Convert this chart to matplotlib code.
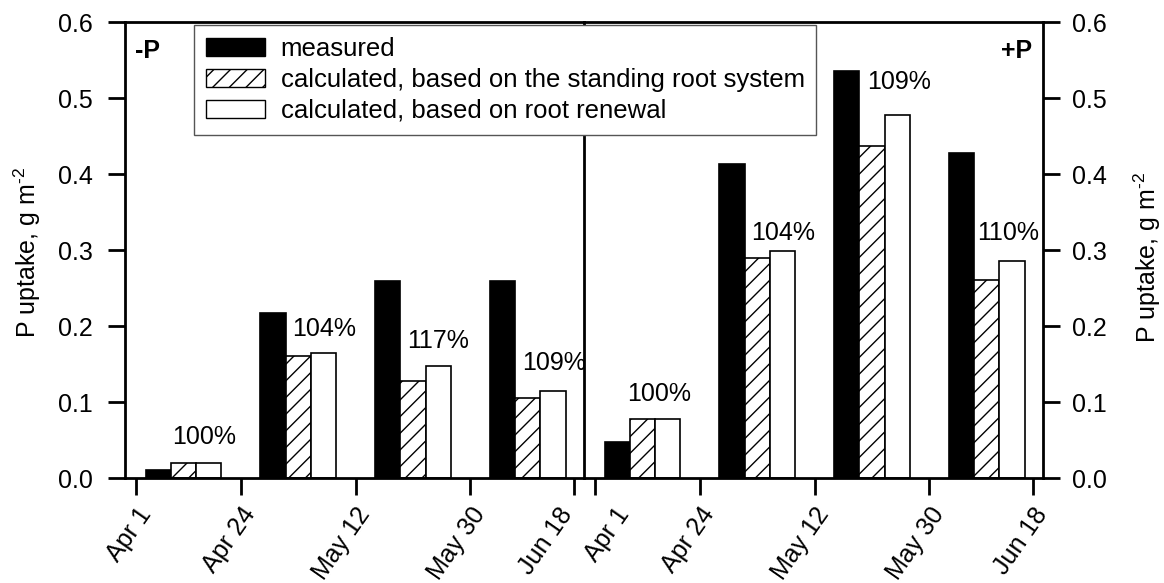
import numpy as np
import matplotlib
matplotlib.use("Agg")
import matplotlib.pyplot as plt
import matplotlib.transforms as mtransforms
from matplotlib.patches import Patch

plt.rcParams['font.family'] = ['Liberation Sans', 'DejaVu Sans']
plt.rcParams['mathtext.default'] = 'regular'
plt.rcParams['hatch.linewidth'] = 1.0

# P uptake (g m-2) per harvest interval
tick_labels = ["Apr 1", "Apr 24", "May 12", "May 30", "Jun 18"]

minus_measured = [0.010, 0.217, 0.259, 0.259]
minus_standing = [0.020, 0.160, 0.127, 0.105]
minus_renewal = [0.020, 0.164, 0.148, 0.115]
minus_pct = ["100%", "104%", "117%", "109%"]

plus_measured = [0.048, 0.413, 0.536, 0.427]
plus_standing = [0.078, 0.289, 0.437, 0.260]
plus_renewal = [0.078, 0.299, 0.478, 0.286]
plus_pct = ["100%", "104%", "109%", "110%"]

legend_labels = ["measured",
                 "calculated, based on the standing root system",
                 "calculated, based on root renewal"]

y_label = "P uptake, g m$^{\u2010 2}$"

# layout
tick_pos = [-0.41, 0.50, 1.50, 2.50, 3.40]
bar_w = 0.22
minus_lbl = [(-0.10, 0.054), (-0.05, 0.196), (-0.05, 0.180), (-0.05, 0.151)]
plus_lbl = [(-0.13, 0.110), (-0.05, 0.322), (-0.04, 0.521), (-0.08, 0.322)]

W, H = 1164, 583
fig = plt.figure(figsize=(W / 100, H / 100), dpi=100)
ax1 = fig.add_axes([125 / W, 1 - 478 / H, 459 / W, 456 / H])
ax2 = fig.add_axes([584 / W, 1 - 478 / H, 459 / W, 456 / H])

FS = 18


def panel(ax, meas, stand, renew, pcts, lbl, tag, tag_x, tag_ha, ypad):
    x = np.arange(len(meas))
    ax.bar(x - bar_w, meas, bar_w, color="black", edgecolor="black", linewidth=1.2)
    ax.bar(x, stand, bar_w, color="white", edgecolor="black", hatch="//", linewidth=1.2)
    ax.bar(x + bar_w, renew, bar_w, color="white", edgecolor="black", linewidth=1.2)
    for i, (p, (dx, yy)) in enumerate(zip(pcts, lbl)):
        ax.text(i + dx, yy, p, ha="left", va="center", fontsize=FS)
    ax.set_xlim(-0.51, 3.49)
    ax.set_ylim(0, 0.6)
    ax.set_xticks(tick_pos)
    ax.set_xticklabels(tick_labels, rotation=55, ha="right", va="top",
                       rotation_mode="anchor", fontsize=FS)
    ax.set_yticks(np.arange(0, 0.61, 0.1))
    ax.yaxis.set_major_formatter(matplotlib.ticker.FormatStrFormatter("%.1f"))
    ax.tick_params(axis="both", direction="out", length=12, width=2, labelsize=FS)
    ax.tick_params(axis="x", pad=6)
    ax.tick_params(axis="y", pad=ypad)
    for s in ax.spines.values():
        s.set_linewidth(2)
    ax.text(tag_x, 0.937, tag, transform=ax.transAxes, ha=tag_ha, va="center",
            fontsize=FS, fontweight="bold")


panel(ax1, minus_measured, minus_standing, minus_renewal, minus_pct, minus_lbl,
      "-P", 0.022, "left", 11)
panel(ax2, plus_measured, plus_standing, plus_renewal, plus_pct, plus_lbl,
      "+P", 0.976, "right", 9)

ax1.spines["right"].set_visible(False)
ax2.yaxis.tick_right()

# nudge the two crowded labels at the panel junction apart
lbl_left_last = ax1.get_xticklabels()[-1]
lbl_left_last.set_transform(lbl_left_last.get_transform() +
                            mtransforms.ScaledTranslation(-16 / 100, 0, fig.dpi_scale_trans))
lbl_right_first = ax2.get_xticklabels()[0]
lbl_right_first.set_transform(lbl_right_first.get_transform() +
                              mtransforms.ScaledTranslation(19 / 100, 0, fig.dpi_scale_trans))

fig.text(27 / W, 1 - 252 / H, y_label, rotation=90,
         ha="center", va="center", fontsize=FS)
fig.text(1147 / W, 1 - 257 / H, y_label, rotation=90,
         ha="center", va="center", fontsize=FS)

handles = [Patch(facecolor="black", edgecolor="black"),
           Patch(facecolor="white", edgecolor="black", hatch="//", linewidth=1.0),
           Patch(facecolor="white", edgecolor="black", linewidth=1.0)]
leg = fig.legend(handles, legend_labels, loc="upper left",
                 bbox_to_anchor=(194 / W, 1 - 25 / H), bbox_transform=fig.transFigure,
                 fontsize=18.5, frameon=True, fancybox=False, framealpha=1,
                 borderaxespad=0, handlelength=2.3, handleheight=0.7,
                 handletextpad=0.62, labelspacing=0.28, borderpad=0.45)
leg.get_frame().set_edgecolor("#555555")
leg.get_frame().set_linewidth(1.0)

fig.savefig("out.png", dpi=100)
